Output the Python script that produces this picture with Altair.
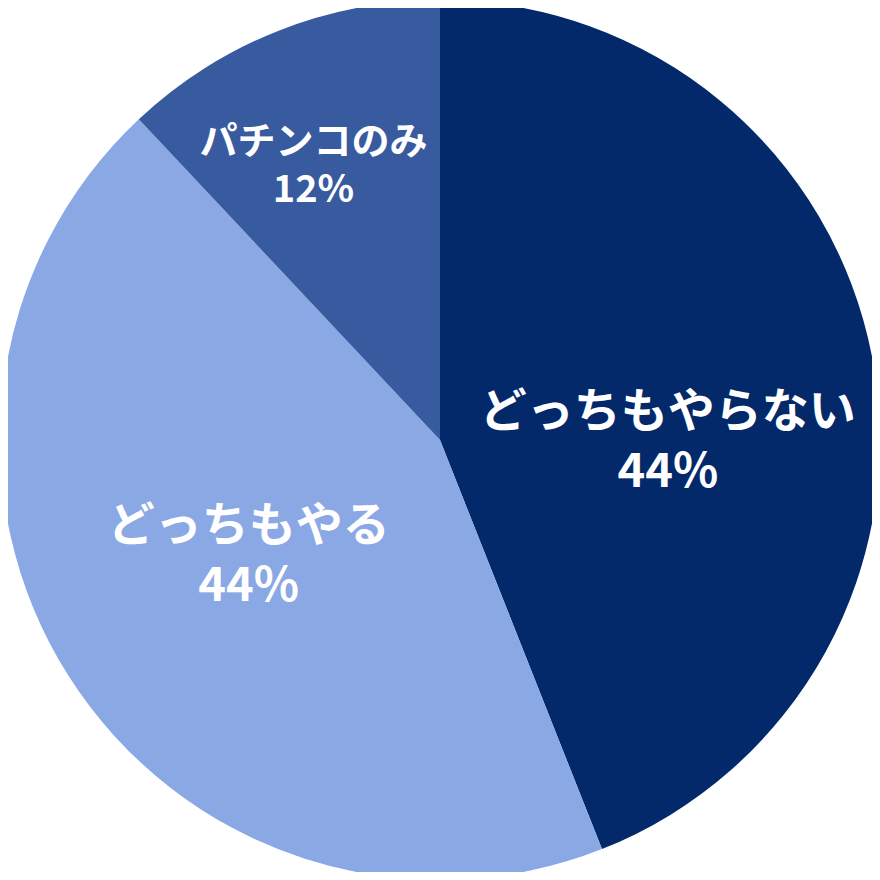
import altair as alt
import pandas as pd

categories = ["どっちもやらない", "どっちもやる", "パチンコのみ"]
values = [44, 44, 12]
colors = ["#03296B", "#8AA8E3", "#385A9F"]

df = pd.DataFrame({
    "category": categories,
    "value": values,
    "idx": list(range(len(categories))),
})
df["pct"] = [f"{v}%" for v in values]
total = sum(values)

theta_scale = alt.Scale(domain=[0, total])

arcs = alt.Chart(df).mark_arc(outerRadius=440, innerRadius=0).encode(
    theta=alt.Theta("value:Q", stack=True, scale=theta_scale),
    color=alt.Color("category:N", scale=alt.Scale(domain=categories, range=colors), legend=None),
    order=alt.Order("idx:Q"),
)

# label styling per slice: (radius, dx, dy, fontSize, lineHeight)
label_style = {
    "どっちもやらない": (233, -1, 17, 47, 60),
    "どっちもやる": (223, -3, -32, 47, 60),
    "パチンコのみ": (303, -15, -15, 38, 48),
}

layers = [arcs]
for cat in categories:
    r, dx, dy, fs, lh = label_style[cat]
    base = (
        alt.Chart(df)
        .transform_window(cum="sum(value)", sort=[alt.SortField("idx")], frame=[None, 0])
        .transform_calculate(mid="datum.cum - datum.value / 2")
        .transform_filter(alt.datum.category == cat)
    )
    for field, off in (("category", 0), ("pct", lh)):
        t = base.mark_text(
            radius=r, dx=dx, dy=dy + off, fontSize=fs,
            font="Noto Sans CJK JP", fontWeight="bold", color="white",
            align="center", baseline="middle",
        ).encode(
            theta=alt.Theta("mid:Q", stack=False, scale=theta_scale),
            text=alt.Text(f"{field}:N"),
        )
        layers.append(t)

chart = alt.layer(*layers).properties(
    width=864, height=864, padding=0,
    autosize=alt.AutoSizeParams(type="none"),
).configure_view(stroke=None)

chart.save("out.html", embed_options={"renderer": "svg", "actions": False})
